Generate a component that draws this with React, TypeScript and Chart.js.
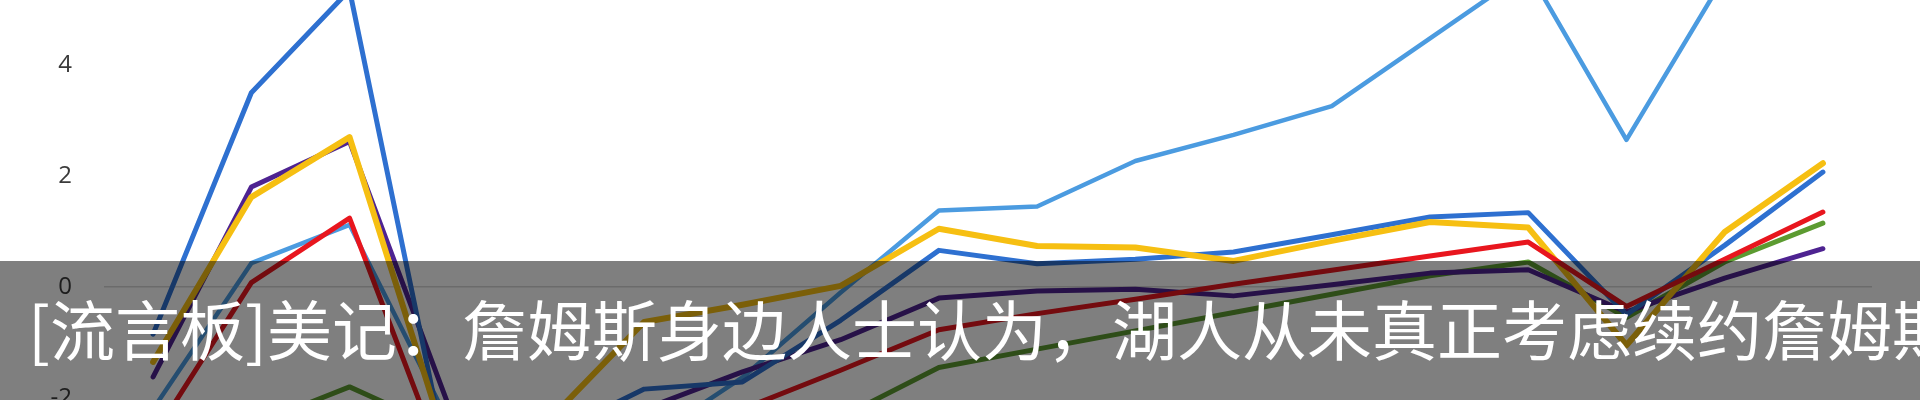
import React, { useEffect, useRef } from "react";
import { Chart, registerables } from "chart.js";

Chart.register(...registerables);

const seasons = [
  "03-04", "04-05", "05-06", "06-07", "07-08", "08-09", "09-10", "10-11", "11-12",
  "12-13", "13-14", "14-15", "15-16", "16-17", "17-18", "18-19", "19-20", "20-21",
];
const yTicks = [-2, 0, 2, 4];
const Y_MIN = -2.036;
const Y_MAX = 5.171;

const redSeries = [-2.7, 0.08, 1.24, -3.4, -3.2, -2.8, -2.2, -1.5, -0.77, -0.48, -0.22, 0.05, 0.3, 0.56, 0.81, -0.35, 0.5, 1.35];
const yellowSeries = [-1.35, 1.62, 2.7, -2.9, -2.45, -0.63, -0.32, 0.02, 1.05, 0.74, 0.71, 0.47, 0.83, 1.17, 1.07, -1.05, 0.99, 2.23];
const darkBlueSeries = [-0.85, 3.5, 5.35, -3.2, -2.7, -1.84, -1.71, -0.6, 0.66, 0.42, 0.5, 0.63, 0.94, 1.26, 1.34, -0.5, 0.75, 2.07];
const purpleSeries = [-1.62, 1.8, 2.62, -2.1, -2.9, -2.2, -1.53, -0.95, -0.2, -0.07, -0.04, -0.16, 0.04, 0.25, 0.31, -0.45, 0.16, 0.69];
const greenSeries = [-2.8, -2.5, -1.8, -2.6, -3.0, -3.0, -2.8, -2.35, -1.45, -1.12, -0.79, -0.46, -0.13, 0.2, 0.45, -0.55, 0.45, 1.15];
const lightBlueSeries = [-2.2, 0.43, 1.12, -2.4, -3.0, -2.8, -1.63, -0.1, 1.38, 1.45, 2.27, 2.74, 3.26, 4.48, 5.7, 2.65, 5.6, 6.0];

const bannerText = "[流言板]美记：詹姆斯身边人士认为，湖人从未真正考虑续约詹姆斯";

export default function App() {
  const ref = useRef<HTMLCanvasElement | null>(null);

  useEffect(() => {
    if (!ref.current) return;
    const mk = (data: number[], color: string, width: number) => ({
      data,
      borderColor: color,
      backgroundColor: color,
      borderWidth: width,
      pointRadius: 0,
      fill: false,
      tension: 0,
      borderJoinStyle: "round" as const,
      borderCapStyle: "round" as const,
      clip: false as const,
    });
    const chart = new Chart(ref.current, {
      type: "line",
      data: {
        labels: seasons,
        datasets: [
          mk(redSeries, "#e8161e", 5),
          mk(yellowSeries, "#f6bf12", 6),
          mk(darkBlueSeries, "#2e70d0", 5),
          mk(purpleSeries, "#4e2391", 5),
          mk(greenSeries, "#5c9b31", 5),
          mk(lightBlueSeries, "#4b9be0", 4.5),
        ],
      },
      options: {
        animation: false,
        responsive: false,
        maintainAspectRatio: false,
        layout: { padding: { left: 0, right: 48, top: 0, bottom: 0 } },
        plugins: { legend: { display: false }, tooltip: { enabled: false } },
        scales: {
          x: { type: "category", offset: true, display: false },
          y: {
            min: Y_MIN,
            max: Y_MAX,
            afterBuildTicks: (s: any) => {
              s.ticks = yTicks.map((v) => ({ value: v }));
            },
            afterFit: (s: any) => {
              s.width = 104;
              s.paddingTop = 0;
              s.paddingBottom = 0;
            },
            ticks: {
              padding: 32,
              color: "#3a3a3a",
              font: { family: "'Open Sans', sans-serif", size: 24 },
            },
            grid: {
              drawTicks: false,
              lineWidth: 1.5,
              color: (ctx: any) =>
                ctx.tick && ctx.tick.value === 0 ? "#d6d6d6" : "rgba(0,0,0,0)",
            },
            border: { display: false },
          },
        },
      },
    });
    return () => chart.destroy();
  }, []);

  return (
    <div
      style={{
        position: "absolute",
        left: 0,
        top: 0,
        width: 1920,
        height: 400,
        overflow: "hidden",
        background: "#ffffff",
      }}
    >
      <canvas ref={ref} width={1920} height={400} style={{ display: "block", width: 1920, height: 400 }} />
      <div
        style={{
          position: "absolute",
          left: 0,
          top: 261,
          width: 1920,
          height: 139,
          background: "rgba(0,0,0,0.5)",
          overflow: "hidden",
        }}
      >
        <span
          style={{
            position: "absolute",
            left: 28,
            top: 34,
            fontFamily: "'Noto Sans CJK SC', sans-serif",
            fontSize: 65,
            lineHeight: "65px",
            color: "#ffffff",
            whiteSpace: "nowrap",
          }}
        >
          {bannerText}
        </span>
      </div>
    </div>
  );
}
